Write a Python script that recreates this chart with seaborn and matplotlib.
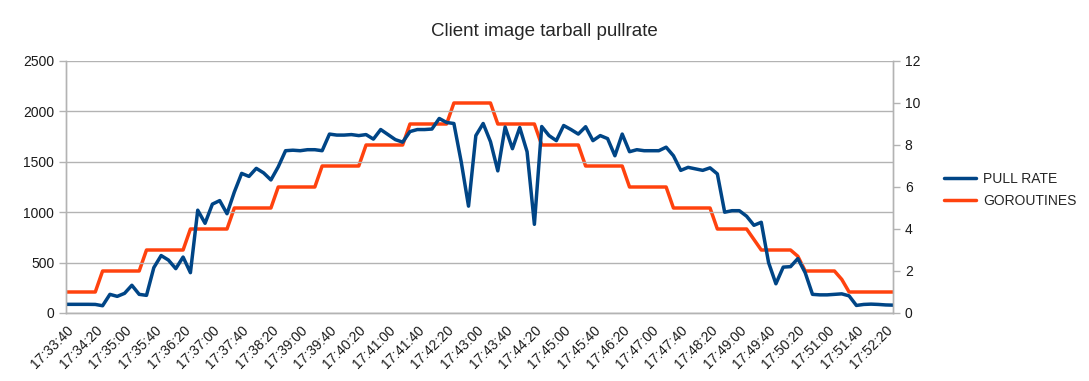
import matplotlib
matplotlib.use('Agg')
import matplotlib.pyplot as plt
import matplotlib.ticker as mticker
from matplotlib.lines import Line2D
import seaborn as sns
import numpy as np

# samples every 10 s starting at 17:33:40
start_sec = 17*3600 + 33*60 + 40
step = 10

pull_rate = [86, 86, 86, 86, 85, 72, 185, 165, 195, 275,
             185, 175, 450, 570, 525, 440, 555, 400, 1020, 890,
             1080, 1115, 985, 1200, 1385, 1355, 1435, 1390, 1320, 1450,
             1610, 1615, 1610, 1620, 1620, 1610, 1775, 1765, 1765, 1770,
             1760, 1770, 1725, 1820, 1770, 1720, 1695, 1800, 1820, 1820,
             1825, 1930, 1890, 1880, 1500, 1060, 1760, 1880, 1700, 1410,
             1845, 1630, 1840, 1600, 880, 1850, 1760, 1710, 1860, 1820,
             1775, 1848, 1710, 1760, 1730, 1560, 1775, 1600, 1620, 1610,
             1610, 1610, 1645, 1560, 1415, 1445, 1430, 1415, 1440, 1380,
             1000, 1015, 1015, 960, 870, 900, 500, 290, 455, 460,
             540, 400, 185, 180, 180, 185, 190, 170, 75, 85,
             88, 85, 80, 78]

goroutines = [1]*5 + [2]*6 + [3]*6 + [4]*6 + [5]*6 + [6]*6 + [7]*6 + [8]*6 + [9]*6 + [10]*6 \
    + [9]*6 + [8]*6 + [7]*6 + [6]*6 + [5]*6 + [4]*5 + [3.5] + [3]*5 + [2.7] + [2]*5 + [1.6] + [1]*7

secs = np.arange(len(pull_rate)) * step

BLUE = '#004586'
ORANGE = '#ff420e'
GRID = '#b3b3b3'

sns.set_style('white')
plt.rcParams['font.family'] = ['Liberation Sans', 'DejaVu Sans']
plt.rcParams['font.size'] = 10

fig = plt.figure(figsize=(10.89, 3.81), dpi=100)
ax = fig.add_axes([66/1089, 1-313/381, (893-66)/1089, (313-61)/381])
ax2 = ax.twinx()

sns.lineplot(x=secs, y=pull_rate, ax=ax, color=BLUE, linewidth=2.5)
sns.lineplot(x=secs, y=goroutines, ax=ax2, color=ORANGE, linewidth=2.5)
ax.set_zorder(ax2.get_zorder() + 1)
ax.patch.set_visible(False)

ax.set_xlim(0, secs[-1])
ax.set_ylim(0, 2500)
ax2.set_ylim(0, 12)
ax.yaxis.set_major_locator(mticker.MultipleLocator(500))
ax2.yaxis.set_major_locator(mticker.MultipleLocator(2))
ax.xaxis.set_major_locator(mticker.MultipleLocator(40))
ax.xaxis.set_minor_locator(mticker.MultipleLocator(10))


def fmt_time(v, pos):
    t = int(round(start_sec + v))
    return '%d:%02d:%02d' % (t // 3600, (t // 60) % 60, t % 60)


ax.xaxis.set_major_formatter(mticker.FuncFormatter(fmt_time))
for lab in ax.get_xticklabels():
    lab.set_rotation(45)
    lab.set_ha('right')
    lab.set_rotation_mode('anchor')

ax.grid(axis='y', color=GRID, linewidth=1)
ax.set_axisbelow(True)
for a in (ax, ax2):
    a.set_xlabel('')
    a.set_ylabel('')
    for s in a.spines.values():
        s.set_color(GRID)
        s.set_linewidth(1)
    a.spines['top'].set_visible(False)
    a.tick_params(colors='#1a1a1a', labelsize=10)
ax.tick_params(axis='both', which='both', direction='out', length=5, color=GRID, width=1)
ax.tick_params(axis='x', which='minor', length=5, color=GRID)
ax.tick_params(axis='x', pad=2)
ax2.tick_params(axis='y', direction='out', length=5, color=GRID, width=1)

fig.suptitle('Client image tarball pullrate', y=1-31/381, va='center', fontsize=13.5)

handles = [Line2D([], [], color=BLUE, linewidth=2.5),
           Line2D([], [], color=ORANGE, linewidth=2.5)]
fig.legend(handles, ['PULL RATE', 'GOROUTINES'], loc='center left',
           bbox_to_anchor=(944/1089, 1-190/381), frameon=False,
           borderpad=0, borderaxespad=0, handlelength=2.3, handletextpad=0.5,
           labelspacing=0.55, fontsize=10)

fig.savefig('out.png', dpi=100)
